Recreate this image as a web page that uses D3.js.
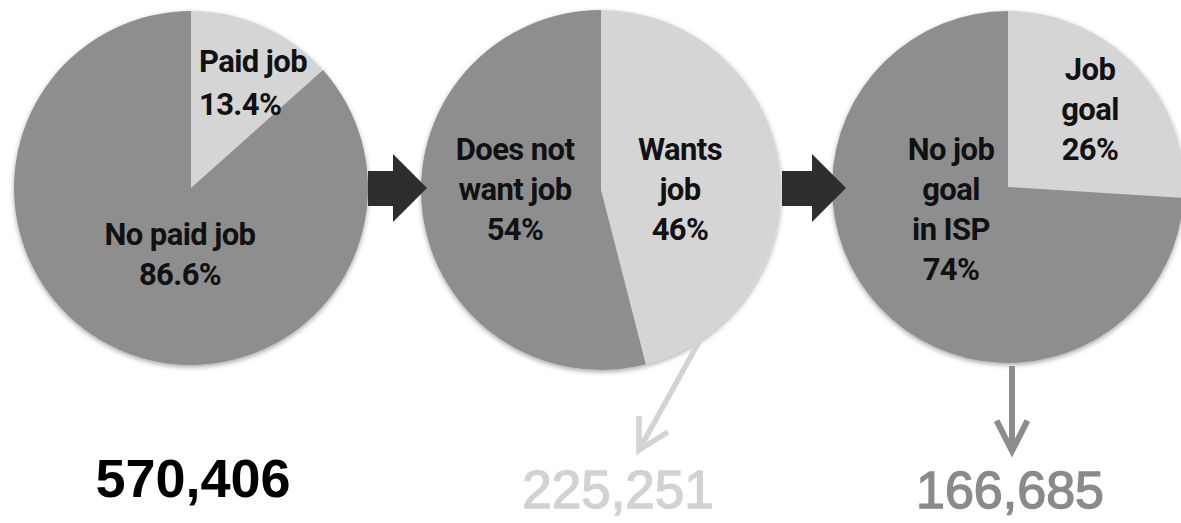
<!DOCTYPE html>
<html><head><meta charset="utf-8">
<script src="https://cdn.jsdelivr.net/npm/d3@7"></script>
<style>html,body{margin:0;padding:0;background:#fff;overflow:hidden}</style>
</head><body>
<svg id="chart" width="1181" height="523"></svg>
<script>
// ---- data ----
const pie1Labels = ["Paid job", "No paid job"];
const pie1Values = [13.4, 86.6];
const pie2Labels = ["Wants job", "Does not want job"];
const pie2Values = [46, 54];
const pie3Labels = ["Job goal", "No job goal in ISP"];
const pie3Values = [26, 74];
const totals = ["570,406", "225,251", "166,685"];

// label line breaks (text only)
const pie1Lines = [["Paid job", "13.4%"], ["No paid job", "86.6%"]];
const pie2Lines = [["Wants", "job", "46%"], ["Does not", "want job", "54%"]];
const pie3Lines = [["Job", "goal", "26%"], ["No job", "goal", "in ISP", "74%"]];

// ---- layout ----
const W = 1181, H = 523;
const svg = d3.select("#chart");
const colors = ["#d5d5d5", "#8e8e8e"];
const defs = svg.append("defs");
const f = defs.append("filter").attr("id", "sh").attr("x", "-10%").attr("y", "-10%").attr("width", "120%").attr("height", "125%");
f.append("feDropShadow").attr("dx", 0).attr("dy", 2).attr("stdDeviation", 2.5).attr("flood-color", "#000").attr("flood-opacity", 0.35);

const pies = [
  {labels: pie1Labels, values: pie1Values, lines: pie1Lines, cx: 191, cy: 188, r: 177,
   lab: [{dx: 8, dy: -116, gap: 43, anchor: "start"}, {dx: -11, dy: 57, gap: 40, anchor: "middle"}]},
  {labels: pie2Labels, values: pie2Values, lines: pie2Lines, cx: 601, cy: 190, r: 180,
   lab: [{dx: 79, dy: -30, gap: 40, anchor: "middle"}, {dx: -86, dy: -30, gap: 40, anchor: "middle"}]},
  {labels: pie3Labels, values: pie3Values, lines: pie3Lines, cx: 1008, cy: 187, r: 176,
   lab: [{dx: 82, dy: -107, gap: 40, anchor: "middle"}, {dx: -57, dy: -27, gap: 40, anchor: "middle"}]}
];

const pieGen = d3.pie().sort(null).value(d => d);
const labelFont = "Roboto, 'DejaVu Sans', sans-serif";

pies.forEach(p => {
  const arcs = pieGen(p.values);
  const arc = d3.arc().innerRadius(0).outerRadius(p.r);
  const g = svg.append("g").attr("transform", `translate(${p.cx},${p.cy})`);
  const sg = g.append("g").attr("filter", "url(#sh)");
  sg.selectAll("path").data(arcs).join("path")
    .attr("d", arc)
    .attr("fill", (d, i) => colors[i]);
  arcs.forEach((a, i) => {
    const L = p.lab[i];
    const t = g.append("text")
      .attr("font-family", labelFont)
      .attr("font-weight", 700)
      .attr("font-size", 31)
      .attr("letter-spacing", -0.6)
      .attr("fill", "#111")
      .attr("text-anchor", L.anchor);
    p.lines[i].forEach((ln, k) => {
      t.append("tspan").attr("x", L.dx).attr("y", L.dy + k * L.gap).text(ln);
    });
  });
});

// block arrows between pies
const blockArrows = [{x0: 368, x1: 393, tip: 427, y: 188}, {x0: 782, x1: 812, tip: 846, y: 188}];
blockArrows.forEach(b => {
  const pts = [[b.x0, b.y - 17], [b.x1, b.y - 17], [b.x1, b.y - 34], [b.tip, b.y],
               [b.x1, b.y + 34], [b.x1, b.y + 18], [b.x0, b.y + 18]];
  svg.append("polygon").attr("points", pts.map(p => p.join(",")).join(" ")).attr("fill", "#2e2e2e");
});

// thin arrows to totals
function lineArrow(x1, y1, x2, y2, color, w, len, ang) {
  svg.append("line").attr("x1", x1).attr("y1", y1).attr("x2", x2).attr("y2", y2)
    .attr("stroke", color).attr("stroke-width", w);
  const dx = x1 - x2, dy = y1 - y2, n = Math.hypot(dx, dy);
  const ux = dx / n, uy = dy / n, a = ang * Math.PI / 180;
  const r1 = [ux * Math.cos(a) - uy * Math.sin(a), ux * Math.sin(a) + uy * Math.cos(a)];
  const r2 = [ux * Math.cos(-a) - uy * Math.sin(-a), ux * Math.sin(-a) + uy * Math.cos(-a)];
  svg.append("polyline")
    .attr("points", `${x2 + r1[0] * len},${y2 + r1[1] * len} ${x2},${y2} ${x2 + r2[0] * len},${y2 + r2[1] * len}`)
    .attr("fill", "none").attr("stroke", color).attr("stroke-width", w)
    .attr("stroke-linejoin", "miter").attr("stroke-linecap", "butt");
}
lineArrow(700, 340, 639, 450, "#d3d3d3", 5.5, 34, 29);
lineArrow(1012, 366, 1012, 451, "#8c8c8c", 6, 34, 27);

// totals
const totalStyle = [
  {x: 193, y: 497, size: 54, color: "#000", weight: "bold", stroke: 0},
  {x: 618, y: 508, size: 53, color: "#d2d2d2", weight: "normal", stroke: 1.4},
  {x: 1010, y: 508, size: 52, color: "#8a8a8a", weight: "normal", stroke: 1.4}
];
svg.selectAll("text.total").data(totals).join("text")
  .attr("class", "total")
  .attr("x", (d, i) => totalStyle[i].x)
  .attr("y", (d, i) => totalStyle[i].y)
  .attr("text-anchor", "middle")
  .attr("font-family", "'Liberation Sans', Arial, sans-serif")
  .attr("font-size", (d, i) => totalStyle[i].size)
  .attr("font-weight", (d, i) => totalStyle[i].weight)
  .attr("fill", (d, i) => totalStyle[i].color)
  .attr("stroke", (d, i) => totalStyle[i].color)
  .attr("stroke-width", (d, i) => totalStyle[i].stroke)
  .text(d => d);
</script>
</body></html>
